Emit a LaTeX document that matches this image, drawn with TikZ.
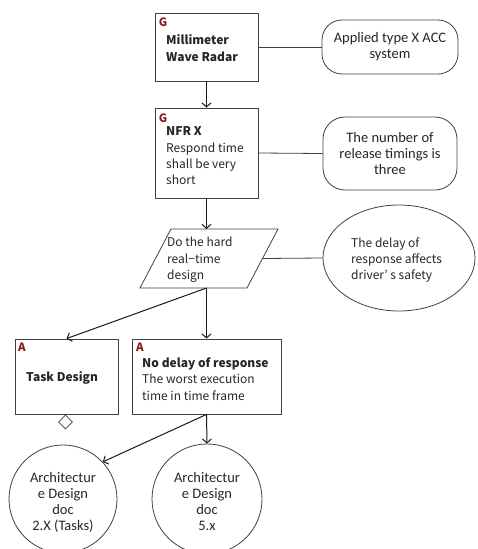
\documentclass[tikz,border=0pt]{standalone}
\usepackage{fontspec}
\setmainfont{Carlito}
\newfontfamily\gothic{Noto Sans CJK JP}
\usetikzlibrary{arrows.meta,shapes.geometric}
\definecolor{edge}{HTML}{404040}
\definecolor{tagred}{HTML}{8B1A1A}
\begin{document}
\begin{tikzpicture}[x=1pt,y=-1pt,
  shapeline/.style={draw=edge, line width=0.8pt, inner sep=0pt},
  goalbox/.style={shapeline, rectangle},
  notebox/.style={shapeline, rectangle, rounded corners=20pt},
  gtext/.style={inner sep=0pt, align=left, text=black!85,
    font={\gothic\fontsize{12}{16.3}\selectfont}},
  ctext/.style={inner sep=0pt, align=center, text=black!85,
    font={\fontsize{14.5}{16}\selectfont}},
  tag/.style={inner sep=0pt, text=tagred, font={\gothic\bfseries\fontsize{11.5}{12}\selectfont}},
  link/.style={draw=edge, line width=0.8pt},
  flow/.style={draw=black!90, line width=1pt, -{Straight Barb[length=4pt,width=9pt,line width=1pt]}}
]
\useasboundingbox (0,0) rectangle (477,549);

% goal: millimeter wave radar
\node[goalbox, minimum width=103pt, minimum height=68pt] (radar) at (206.5,47) {};
\node[tag] (radar-tag) at (163,22) {G};
\node[gtext, anchor=west] (radar-text) at (166,48) {\bfseries Millimeter\\\bfseries Wave Radar};

\node[notebox, minimum width=136pt, minimum height=54pt] (acc) at (390,47) {};
\node[ctext] (acc-text) at (390,47) {Applied type X ACC\\system};

% goal: NFR X
\node[goalbox, minimum width=103pt, minimum height=90pt] (nfr) at (206.5,153) {};
\node[tag] (nfr-tag) at (163,118) {G};
\node[gtext, anchor=west] (nfr-text) at (166,156) {\bfseries NFR X\\Respond time\\shall be very\\short};

\node[notebox, rounded corners=22pt, minimum width=134pt, minimum height=73pt] (rel) at (390,153.5) {};
\node[ctext] (rel-text) at (390,153.5) {The number of\\release timings is\\three};

% strategy: hard real-time design
\draw[edge, line width=0.8pt] (171,229) -- (278,229) -- (247,288) -- (140,288) -- cycle;
\coordinate (hrt-top) at (206.5,229);
\coordinate (hrt-right) at (262.5,258.5);
\coordinate (hrt-bot) at (206.5,288);
\node[gtext, anchor=west] (hrt) at (167,260) {Do the hard\\real−time\\design};

\node[shapeline, ellipse, minimum width=152pt, minimum height=106pt] (delay) at (399,258) {};
\node[gtext, anchor=west] (delay-text) at (351,260) {The delay of\\response affects\\driver’ s safety};

% solutions
\node[goalbox, minimum width=103pt, minimum height=75pt] (task) at (66.5,376.5) {};
\node[tag] (task-tag) at (22,347) {A};
\node[gtext, anchor=west] (task-text) at (26,378) {\bfseries Task Design};
\node[shapeline, diamond, aspect=1, minimum size=14pt, fill=white] (task-agg) at (65.5,422) {};

\node[goalbox, minimum width=149pt, minimum height=75pt] (nodelay) at (206.5,376.5) {};
\node[tag] (nodelay-tag) at (140,347) {A};
\node[gtext, anchor=west] (nodelay-text) at (142,379) {\bfseries No delay of response\\The worst execution\\time in time frame};

\node[shapeline, circle, minimum size=108pt] (arch1) at (63,499) {};
\node[ctext] (arch1-text) at (63,502) {Architectur\\e Design\\doc\\2.X (Tasks)};
\node[shapeline, circle, minimum size=110pt] (arch2) at (207,499) {};
\node[ctext] (arch2-text) at (207,502) {Architectur\\e Design\\doc\\5.x};

% connectors
\draw[link] (radar.east) -- (acc.west);
\draw[link] (nfr.east) -- (rel.west);
\draw[link] (hrt-right) -- (delay.west);
\draw[flow] (radar.south) -- (nfr.north);
\draw[flow] (nfr.south) -- (hrt-top);
\draw[flow] (hrt-bot) -- (task.north);
\draw[flow] (hrt-bot) -- (nodelay.north);
\draw[flow] (nodelay.south) -- (arch1.43);
\draw[flow] (nodelay.south) -- (arch2.north);
\end{tikzpicture}
\end{document}
